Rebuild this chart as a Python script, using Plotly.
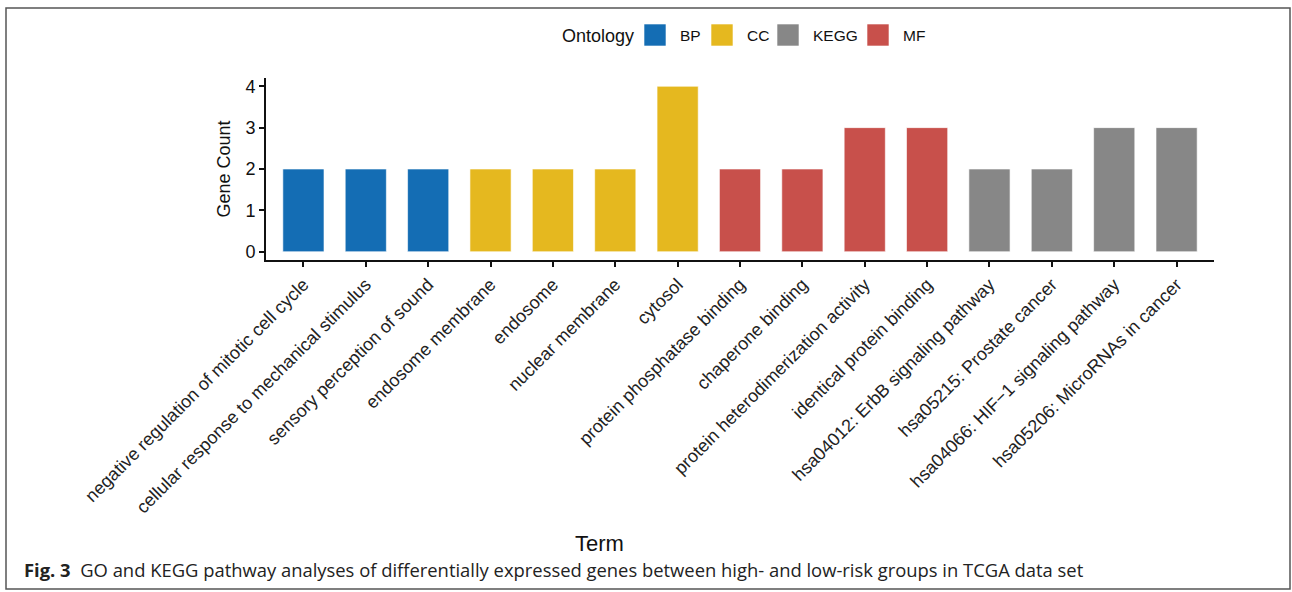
import plotly.graph_objects as go

# GO / KEGG enrichment terms, in display order
terms = [
    "negative regulation of mitotic cell cycle",
    "cellular response to mechanical stimulus",
    "sensory perception of sound",
    "endosome membrane",
    "endosome",
    "nuclear membrane",
    "cytosol",
    "protein phosphatase binding",
    "chaperone binding",
    "protein heterodimerization activity",
    "identical protein binding",
    "hsa04012: ErbB signaling pathway",
    "hsa05215: Prostate cancer",
    "hsa04066: HIF\u22121 signaling pathway",
    "hsa05206: MicroRNAs in cancer",
]
ontology = ["BP", "BP", "BP", "CC", "CC", "CC", "CC",
            "MF", "MF", "MF", "MF", "KEGG", "KEGG", "KEGG", "KEGG"]
gene_count = [2, 2, 2, 2, 2, 2, 4, 2, 2, 3, 3, 2, 2, 3, 3]

legend_order = ["BP", "CC", "KEGG", "MF"]
palette = {"BP": "#146DB4", "CC": "#E5B81F", "KEGG": "#878787", "MF": "#C8504B"}

W, H = 1292, 592
L, R, T, B = 266, 78, 78, 332
pw, ph = W - L - R, H - T - B


def px_x(x):
    return (x - L) / pw


def px_y(y):
    return (H - B - y) / ph


font_fam = "Liberation Sans, Arial, sans-serif"

fig = go.Figure()
for ont in legend_order:
    idx = [i for i, o in enumerate(ontology) if o == ont]
    fig.add_trace(go.Bar(
        x=[terms[i] for i in idx],
        y=[gene_count[i] for i in idx],
        name=ont,
        marker=dict(color=palette[ont], line=dict(color="rgba(255,255,255,0.6)", width=1)),
        width=0.66,
        showlegend=False,
    ))

# Legend drawn as swatches + labels across the top (left edge of each swatch, px)
swatch_left = [644, 711, 777, 867]
shapes = [dict(
    type="rect", xref="paper", yref="paper",
    x0=px_x(6), x1=px_x(1290), y0=px_y(589), y1=px_y(8),
    line=dict(color="#555", width=1.5), fillcolor="rgba(0,0,0,0)", layer="below",
)]
annotations = [dict(
    text="Ontology", xref="paper", yref="paper", x=px_x(636), y=px_y(36),
    xanchor="right", yanchor="middle", showarrow=False,
    font=dict(size=18, color="#111", family=font_fam),
)]
for ont, sx in zip(legend_order, swatch_left):
    shapes.append(dict(
        type="rect", xref="paper", yref="paper",
        x0=px_x(sx), x1=px_x(sx + 22), y0=px_y(46), y1=px_y(24),
        line=dict(color="rgba(255,255,255,0.6)", width=1), fillcolor=palette[ont],
    ))
    annotations.append(dict(
        text=ont, xref="paper", yref="paper", x=px_x(sx + 34), y=px_y(36),
        xanchor="left", yanchor="middle", showarrow=False,
        font=dict(size=15.5, color="#111", family=font_fam),
    ))

annotations += [
    dict(text="Term", xref="paper", yref="paper", x=px_x(599), y=px_y(543),
         xanchor="center", yanchor="middle", showarrow=False,
         font=dict(size=22, color="#111", family=font_fam)),
    dict(text="<b>Fig. 3</b>  GO and KEGG pathway analyses of differentially expressed genes "
              "between high- and low-risk groups in TCGA data set",
         xref="paper", yref="paper", x=px_x(22), y=px_y(569),
         xanchor="left", yanchor="middle", showarrow=False,
         font=dict(size=18.4, color="#222", family="Open Sans, Noto Sans, sans-serif")),
]

fig.update_layout(
    width=W, height=H,
    margin=dict(l=L, r=R, t=T, b=B),
    paper_bgcolor="white", plot_bgcolor="white",
    barmode="overlay",
    xaxis=dict(
        categoryorder="array", categoryarray=terms,
        range=[-0.6, len(terms) - 0.4],
        tickangle=-45, ticks="outside", ticklen=5, tickwidth=2, tickcolor="#111",
        showline=True, linecolor="#111", linewidth=2,
        showgrid=False, zeroline=False,
        tickfont=dict(size=18, color="#222", family=font_fam),
    ),
    yaxis=dict(
        range=[-0.2, 4.2], tickvals=[0, 1, 2, 3, 4],
        ticks="outside", ticklen=5, tickwidth=2, tickcolor="#111",
        showline=True, linecolor="#111", linewidth=2,
        showgrid=False, zeroline=False,
        tickfont=dict(size=18, color="#111", family=font_fam),
        title=dict(text="Gene Count", font=dict(size=18, color="#111", family=font_fam), standoff=10),
    ),
    shapes=shapes,
    annotations=annotations,
)

fig.write_html("out.html")
